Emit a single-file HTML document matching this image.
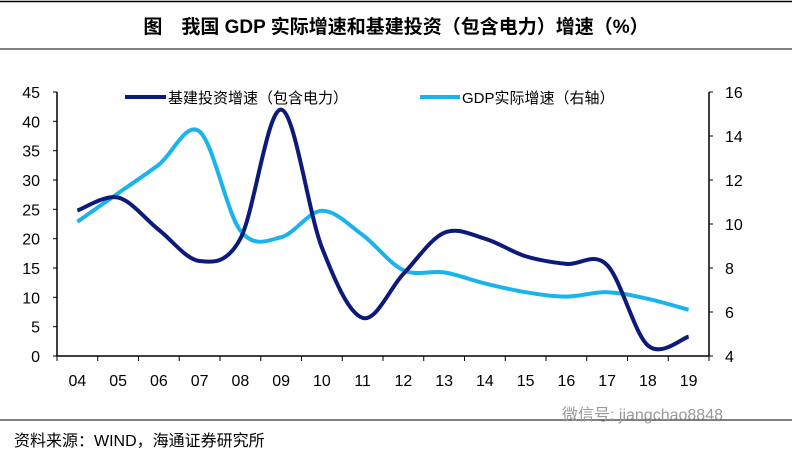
<!DOCTYPE html>
<html><head><meta charset="utf-8"><style>
body{margin:0;background:#fff;width:792px;height:452px;overflow:hidden;font-family:"Liberation Sans","Noto Sans CJK SC",sans-serif;}
</style></head><body>
<svg width="792" height="452" style="position:absolute;left:0;top:0;font-family:'Liberation Sans','Noto Sans CJK SC',sans-serif">
<line x1="0" y1="1.5" x2="792" y2="1.5" stroke="#000" stroke-width="1.5"/>
<text x="396" y="33" text-anchor="middle" font-size="19" font-weight="bold">图　我国 GDP 实际增速和基建投资（包含电力）增速（%）</text>
<line x1="0" y1="49" x2="792" y2="49" stroke="#000" stroke-width="1"/>
<g id="axes"></g>
<g id="series"></g>
<g>
<line x1="125" y1="97" x2="166" y2="97" stroke="#0c1a7a" stroke-width="4"/>
<text x="168" y="103" font-size="15">基建投资增速（包含电力）</text>
<line x1="420" y1="97" x2="460" y2="97" stroke="#1ab3ec" stroke-width="4"/>
<text x="462" y="103" font-size="15">GDP实际增速（右轴）</text>
</g>
<line x1="0" y1="420" x2="792" y2="420" stroke="#000" stroke-width="1"/>
<text x="14" y="446" font-size="16">资料来源：WIND，海通证券研究所</text>
<text x="562" y="420" font-size="16" fill="#999">微信号: jiangchao8848</text>
</svg>
<script>
const categories=["04","05","06","07","08","09","10","11","12","13","14","15","16","17","18","19"];
const infraValues=[24.8,27,21.5,16.2,20,42,18.5,6.5,14,21,20,17,15.7,15.5,1.8,3.3];
const gdpValues=[10.1,11.4,12.7,14.2,9.7,9.4,10.6,9.5,7.9,7.8,7.3,6.9,6.7,6.9,6.6,6.1];
const leftTicks=[0,5,10,15,20,25,30,35,40,45];
const rightTicks=[4,6,8,10,12,14,16];
const NS="http://www.w3.org/2000/svg";
const X0=57,X1=709,Y0=356,Y1=92;
const bw=(X1-X0)/categories.length;
const xs=i=>X0+bw*(i+0.5);
const yl=v=>Y0-(v-0)/(45-0)*(Y0-Y1);
const yr=v=>Y0-(v-4)/(16-4)*(Y0-Y1);
function mk(t,a,p){const e=document.createElementNS(NS,t);for(const k in a)e.setAttribute(k,a[k]);p.appendChild(e);return e;}
const ax=document.getElementById('axes');
let e=mk('line',{x1:X0,y1:Y1,x2:X0,y2:Y0,stroke:'#000','stroke-width':1.5},ax);

e=mk('line',{x1:X1,y1:Y1,x2:X1,y2:Y0,stroke:'#000','stroke-width':1.5},ax);

e=mk('line',{x1:X0,y1:Y0,x2:X1,y2:Y0,stroke:'#000','stroke-width':1.5},ax);

leftTicks.forEach(v=>{const y=yl(v);mk('line',{x1:X0-4,y1:y,x2:X0,y2:y,stroke:'#000'},ax);
const t=mk('text',{x:X0-17,y:y+6,'text-anchor':'end','font-size':16},ax);t.textContent=v;
});
rightTicks.forEach(v=>{const y=yr(v);mk('line',{x1:X1,y1:y,x2:X1+4,y2:y,stroke:'#000'},ax);
const t=mk('text',{x:X1+16,y:y+6,'font-size':16},ax);t.textContent=v;
});
for(let i=0;i<=categories.length;i++){const x=X0+bw*i;mk('line',{x1:x,y1:Y0,x2:x,y2:Y0+5,stroke:'#000'},ax);}
categories.forEach((c,i)=>{const t=mk('text',{x:xs(i),y:386,'text-anchor':'middle','font-size':16},ax);t.textContent=c;
});
function smooth(pts){let d=`M${pts[0][0]},${pts[0][1]}`;for(let i=0;i<pts.length-1;i++){const p0=pts[i-1]||pts[i],p1=pts[i],p2=pts[i+1],p3=pts[i+2]||p2;
const c1=[p1[0]+(p2[0]-p0[0])/6,p1[1]+(p2[1]-p0[1])/6],c2=[p2[0]-(p3[0]-p1[0])/6,p2[1]-(p3[1]-p1[1])/6];
d+=` C${c1[0]},${c1[1]} ${c2[0]},${c2[1]} ${p2[0]},${p2[1]}`;}return d;}
const sg=document.getElementById('series');
e=mk('path',{d:smooth(gdpValues.map((v,i)=>[xs(i),yr(v)])),fill:'none',stroke:'#1ab3ec','stroke-width':4,'stroke-linejoin':'round'},sg);

e=mk('path',{d:smooth(infraValues.map((v,i)=>[xs(i),yl(v)])),fill:'none',stroke:'#0c1a7a','stroke-width':4,'stroke-linejoin':'round'},sg);

</script>
</body></html>
